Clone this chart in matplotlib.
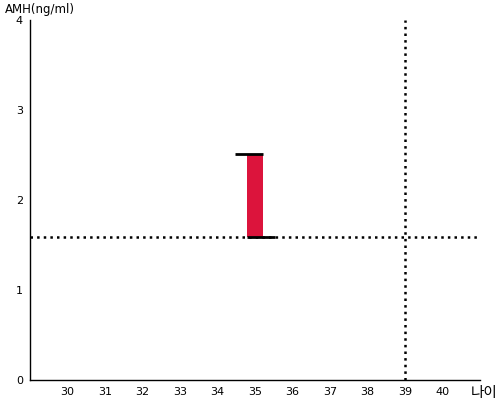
import matplotlib
matplotlib.use("Agg")
import matplotlib.pyplot as plt

plt.rcParams['font.family'] = ['DejaVu Sans', 'Noto Sans CJK KR']

ages = [35]
amh_low = [1.59]
amh_high = [2.51]
ref_amh = 1.59
ref_age = 39
x_ticks = [30, 31, 32, 33, 34, 35, 36, 37, 38, 39, 40]
y_ticks = [0, 1, 2, 3, 4]

fig = plt.figure(figsize=(5, 4), dpi=100)
ax = fig.add_axes([0.06, 0.05, 0.90, 0.90])

bar_w = 0.43
cap_w = 0.75
for a, lo, hi in zip(ages, amh_low, amh_high):
    ax.bar(a, hi - lo, bottom=lo, width=bar_w, color='#DC143C', zorder=2)
    ax.hlines(hi, a + bar_w / 2 - cap_w, a + bar_w / 2, color='black', lw=2, zorder=3)
    ax.hlines(lo, a - bar_w / 2, a - bar_w / 2 + cap_w, color='black', lw=2, zorder=3)

ax.axhline(ref_amh, color='black', ls=':', lw=1.8, zorder=1)
ax.axvline(ref_age, color='black', ls=':', lw=1.8, zorder=1)

ax.set_xlim(29, 41)
ax.set_ylim(0, 4)
ax.set_xticks(x_ticks)
ax.set_yticks(y_ticks)
ax.tick_params(length=0, labelsize=8, pad=5)
for s in ['top', 'right']:
    ax.spines[s].set_visible(False)
for s in ['left', 'bottom']:
    ax.spines[s].set_linewidth(1)

fig.text(0.01, 0.975, 'AMH(ng/ml)', fontsize=8.5, va='center', ha='left')
fig.text(0.995, 0.018, '나이', fontsize=10.5, va='center', ha='right',
         family=['Noto Sans CJK KR', 'DejaVu Sans'])

fig.savefig('out.png', dpi=100)
